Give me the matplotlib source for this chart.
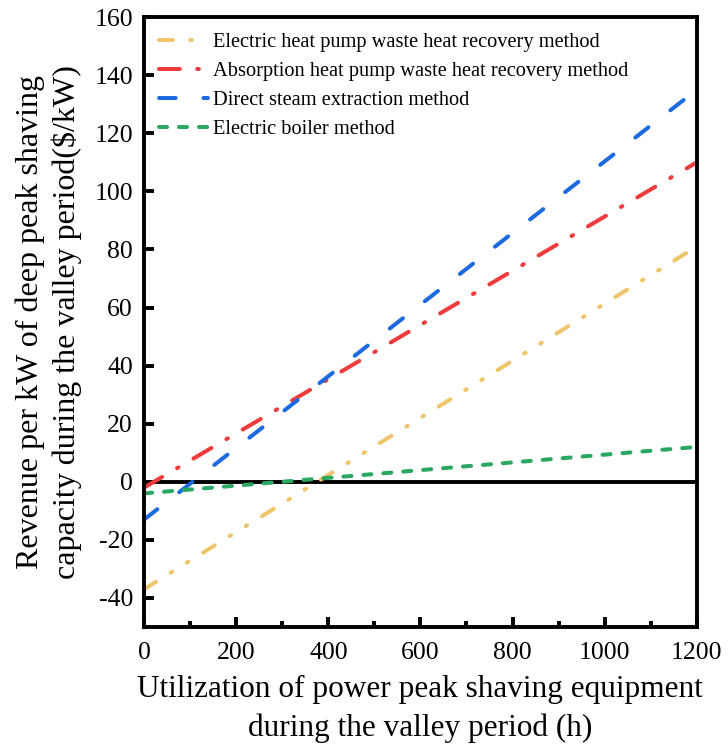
import matplotlib.pyplot as plt
import numpy as np

# ================= Data ===============
hours = [0, 1200]
electric_heat_pump = [-37, 81]
absorption_heat_pump = [-2, 110]
direct_steam = [-13, 135]
electric_boiler = [-4, 12]

labels = ["Electric heat pump waste heat recovery method",
          "Absorption heat pump waste heat recovery method",
          "Direct steam extraction method",
          "Electric boiler method"]

# ================= Plot ===============
plt.rcParams['font.family'] = ['Liberation Serif', 'DejaVu Serif']
plt.rcParams['axes.unicode_minus'] = False
plt.rcParams['lines.scale_dashes'] = False

fig, ax = plt.subplots(figsize=(7.28, 7.49), dpi=100)
fig.subplots_adjust(left=0.198, right=0.957, top=0.977, bottom=0.163)

lw = 2.9
style = dict(lw=lw, dash_capstyle='round')
ax.plot(hours, electric_heat_pump, color="#EFC56C",
        dashes=(10, 12.5, 1.2, 12.5, 1.2, 12.5), label=labels[0], **style)
ax.plot(hours, absorption_heat_pump, color="#F03B3C",
        dashes=(15, 12.5, 1.2, 12.5), label=labels[1], **style)
ax.plot(hours, direct_steam, color="#1B6AE0",
        dashes=(12, 20), label=labels[2], **style)
ax.plot(hours, electric_boiler, color="#2AA862",
        dashes=(5.8, 8.6), label=labels[3], **style)
ax.axhline(0, color="black", lw=2.8, zorder=1)

ax.set(xlim=(0, 1200), xticks=np.arange(0, 1201, 200),
       ylim=(-50, 160), yticks=np.arange(-40, 161, 20))
ax.set_xticks(np.arange(100, 1200, 200), minor=True)

for s in ax.spines.values():
    s.set_linewidth(2.8)
ax.tick_params(which='major', direction='in', length=7, width=2.8, labelsize=18.5)
ax.tick_params(axis='x', which='major', pad=11)
ax.tick_params(axis='y', which='major', pad=8)
ax.tick_params(which='minor', direction='in', length=4, width=2.8)

ax.set_xlabel("Utilization of power peak shaving equipment\nduring the valley period (h)",
              fontsize=22.5, labelpad=8, linespacing=1.4)
ax.set_ylabel("Revenue per kW of deep peak shaving\ncapacity during the valley period($/kW)",
              fontsize=23, linespacing=1.25)
ax.yaxis.set_label_coords(-0.113, 0.5)

ax.legend(loc="upper left", frameon=False, fontsize=14.7, handlelength=2.4,
          handletextpad=0.2, labelspacing=0.48, borderaxespad=0.35)

plt.savefig("out.png")
